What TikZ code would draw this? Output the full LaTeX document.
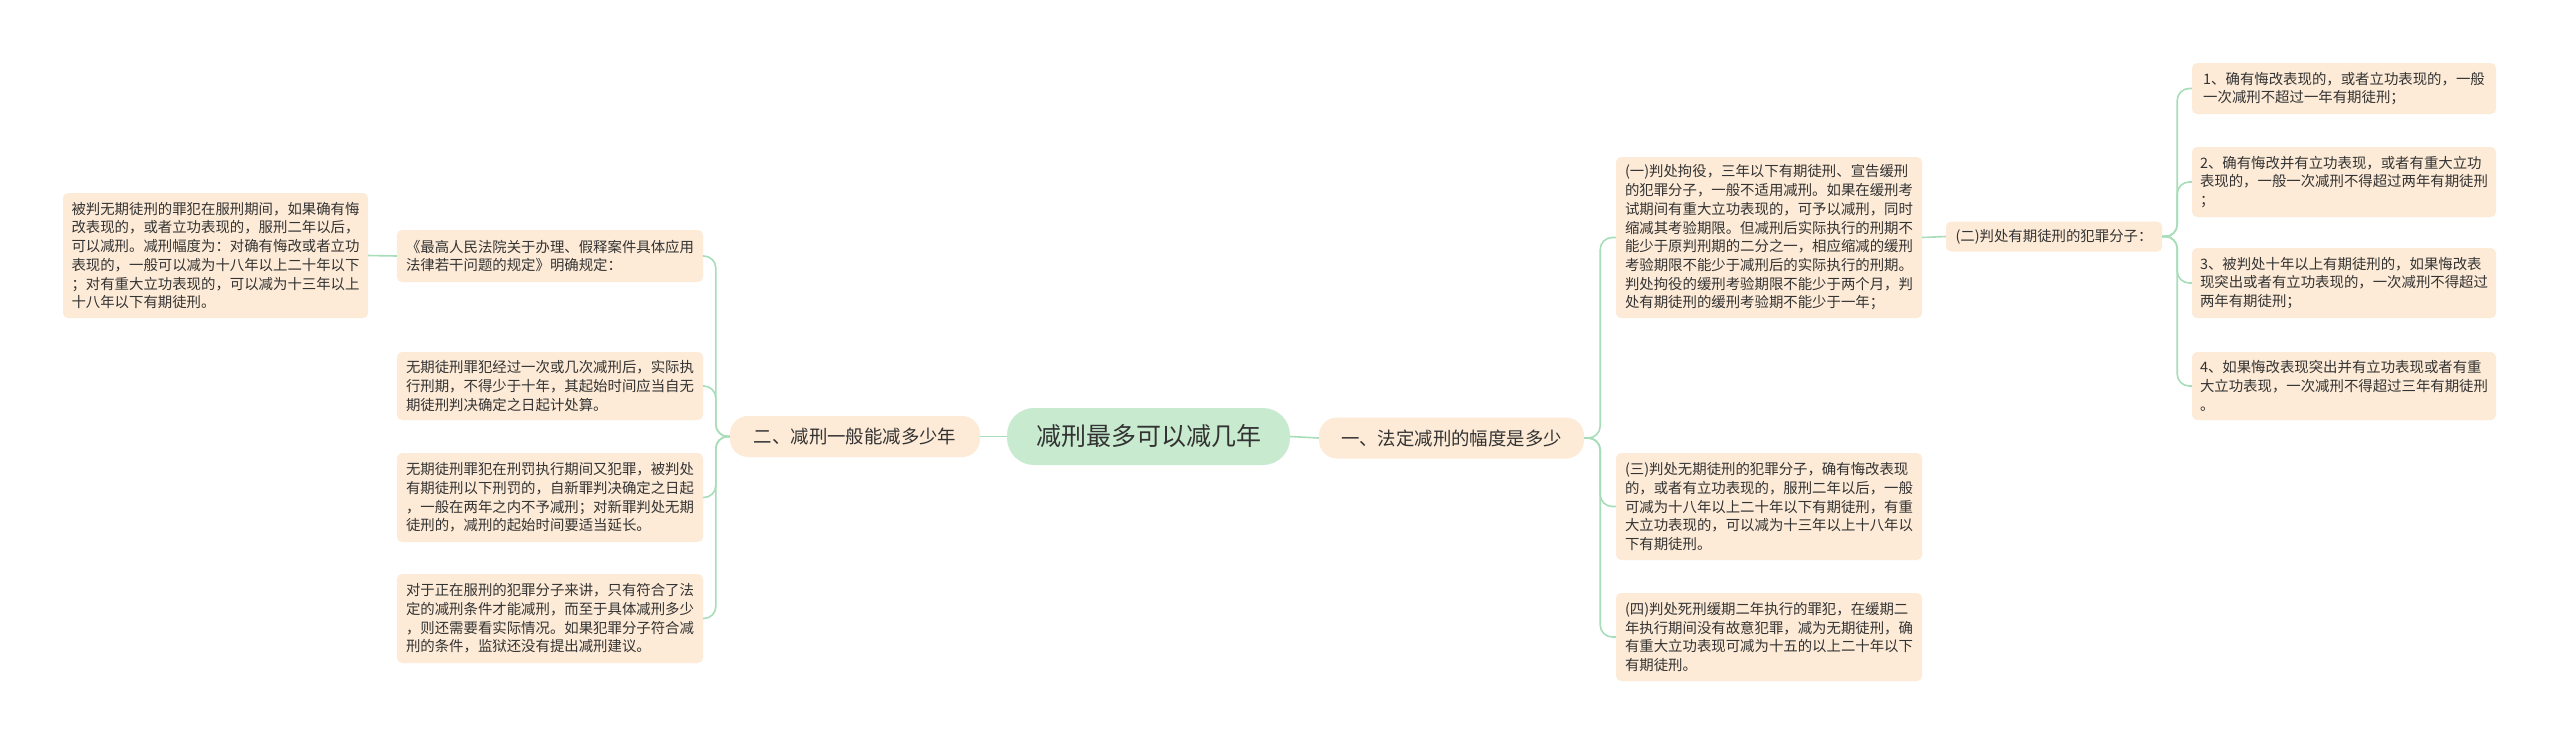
\documentclass[tikz,border=0pt]{standalone}
\usepackage{fontspec}
\setmainfont{Noto Sans CJK SC}
\definecolor{leafc}{HTML}{FDEBD7}
\definecolor{rootc}{HTML}{C8EBCF}
\definecolor{linec}{HTML}{A8DDB9}
\definecolor{txtc}{HTML}{333333}
\newcommand\leaffont{\fontsize{14.4}{18.7}\selectfont}
\newcommand\branchfont{\fontsize{18.4}{22}\selectfont}
\newcommand\rootfont{\fontsize{25}{30}\selectfont}
\tikzset{
  leafbox/.style={fill=leafc, rounded corners=5pt, align=left, inner sep=0pt, font=\leaffont, text=txtc},
  branchbox/.style={fill=leafc, rounded corners=18pt, align=center, inner sep=0pt, font=\branchfont, text=txtc, minimum height=41pt},
  rootbox/.style={fill=rootc, rounded corners=27pt, align=center, inner sep=0pt, font=\rootfont, text=txtc, minimum width=283pt, minimum height=57pt},
  connline/.style={draw=linec, line width=1.6pt, rounded corners=12pt},
}
\begin{document}
\begin{tikzpicture}[x=1pt,y=-1pt]
\useasboundingbox[fill=white] (0,0) rectangle (2560,745);
% root and branches
\node[rootbox] (C) at (1148.5,436.5) {减刑最多可以减几年};
\node[branchbox, minimum width=250pt] (L) at (855,436.5) {二、减刑一般能减多少年};
\node[branchbox, minimum width=265pt] (R) at (1451.5,438) {一、法定减刑的幅度是多少};
% left leaves
\node[leafbox, minimum width=305pt, minimum height=125pt] (L0) at (215.5,255.5) {被判无期徒刑的罪犯在服刑期间，如果确有悔\\改表现的，或者立功表现的，服刑二年以后，\\可以减刑。减刑幅度为：对确有悔改或者立功\\表现的，一般可以减为十八年以上二十年以下\\；对有重大立功表现的，可以减为十三年以上\\十八年以下有期徒刑。};
\node[leafbox, minimum width=306pt, minimum height=52pt] (L1) at (550,256) {《最高人民法院关于办理、假释案件具体应用\\法律若干问题的规定》明确规定：};
\node[leafbox, minimum width=306pt, minimum height=68pt] (L2) at (550,386) {无期徒刑罪犯经过一次或几次减刑后，实际执\\行刑期，不得少于十年，其起始时间应当自无\\期徒刑判决确定之日起计处算。};
\node[leafbox, minimum width=306pt, minimum height=89pt] (L3) at (550,497.5) {无期徒刑罪犯在刑罚执行期间又犯罪，被判处\\有期徒刑以下刑罚的，自新罪判决确定之日起\\，一般在两年之内不予减刑；对新罪判处无期\\徒刑的，减刑的起始时间要适当延长。};
\node[leafbox, minimum width=306pt, minimum height=89pt] (L4) at (550,618.5) {对于正在服刑的犯罪分子来讲，只有符合了法\\定的减刑条件才能减刑，而至于具体减刑多少\\，则还需要看实际情况。如果犯罪分子符合减\\刑的条件，监狱还没有提出减刑建议。};
% right leaves
\node[leafbox, minimum width=306pt, minimum height=161pt] (R1) at (1769,237.5) {(一)判处拘役，三年以下有期徒刑、宣告缓刑\\的犯罪分子，一般不适用减刑。如果在缓刑考\\试期间有重大立功表现的，可予以减刑，同时\\缩减其考验期限。但减刑后实际执行的刑期不\\能少于原判刑期的二分之一，相应缩减的缓刑\\考验期限不能少于减刑后的实际执行的刑期。\\判处拘役的缓刑考验期限不能少于两个月，判\\处有期徒刑的缓刑考验期不能少于一年；};
\node[leafbox, minimum width=216pt, minimum height=30pt] (R2) at (2054,236.5) {(二)判处有期徒刑的犯罪分子：};
\node[leafbox, minimum width=306pt, minimum height=107pt] (R3) at (1769,506.5) {(三)判处无期徒刑的犯罪分子，确有悔改表现\\的，或者有立功表现的，服刑二年以后，一般\\可减为十八年以上二十年以下有期徒刑，有重\\大立功表现的，可以减为十三年以上十八年以\\下有期徒刑。};
\node[leafbox, minimum width=306pt, minimum height=88pt] (R4) at (1769,637) {(四)判处死刑缓期二年执行的罪犯，在缓期二\\年执行期间没有故意犯罪，减为无期徒刑，确\\有重大立功表现可减为十五的以上二十年以下\\有期徒刑。};
% sub leaves
\node[leafbox, minimum width=304pt, minimum height=51pt] (S1) at (2344,88.5) {1、确有悔改表现的，或者立功表现的，一般\\一次减刑不超过一年有期徒刑；};
\node[leafbox, minimum width=304pt, minimum height=70pt] (S2) at (2344,182) {2、确有悔改并有立功表现，或者有重大立功\\表现的，一般一次减刑不得超过两年有期徒刑\\；};
\node[leafbox, minimum width=304pt, minimum height=70pt] (S3) at (2344,283) {3、被判处十年以上有期徒刑的，如果悔改表\\现突出或者有立功表现的，一次减刑不得超过\\两年有期徒刑；};
\node[leafbox, minimum width=304pt, minimum height=68pt] (S4) at (2344,386) {4、如果悔改表现突出并有立功表现或者有重\\大立功表现，一次减刑不得超过三年有期徒刑\\。};
% connectors
\draw[connline] (C.west) -- (L.east);
\draw[connline] (C.east) -- (R.west);
\foreach \n in {L1,L2,L3,L4} \draw[connline] (L.west) -- ++(-14,0) |- (\n.east);
\draw[connline] (L1.west) -- (L0.east);
\foreach \n in {R1,R3,R4} \draw[connline] (R.east) -- ++(16,0) |- (\n.west);
\draw[connline] (R1.east) -- (R2.west);
\foreach \n in {S1,S2,S3,S4} \draw[connline] (R2.east) -- ++(15,0) |- (\n.west);
\end{tikzpicture}
\end{document}
